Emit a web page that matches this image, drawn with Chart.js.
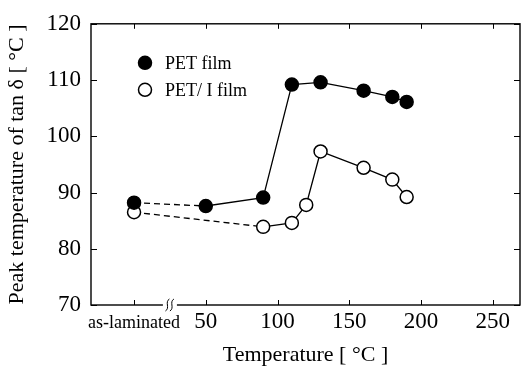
<!DOCTYPE html>
<html>
<head>
<meta charset="utf-8">
<script src="https://cdn.jsdelivr.net/npm/chart.js@4.4.0/dist/chart.umd.min.js"></script>
<style>
  html, body { margin: 0; padding: 0; background: #fff; }
</style>
</head>
<body>
<canvas id="chart" width="528" height="373"></canvas>
<script>
// x = 0 stands for the "as-laminated" sample (axis is broken between it and 50)
const petTemps = [0, 50, 90, 110, 130, 160, 180, 190];
const petFilm = [88.2, 87.6, 89.1, 109.2, 109.6, 108.1, 107.0, 106.1];
const petITemps = [0, 90, 110, 120, 130, 160, 180, 190];
const petIFilm = [86.5, 83.9, 84.6, 87.8, 97.3, 94.4, 92.3, 89.2];
const xTicks = [0, 50, 100, 150, 200, 250];
const seriesNames = ['PET film', 'PET/ I film'];

const FAMILY = "'Liberation Serif', 'Times New Roman', serif";

// dashed from as-laminated to the first annealed sample
const dashFirst = { borderDash: ctx => ctx.p0DataIndex === 0 ? [6, 4] : undefined };

// box, inward ticks on all four sides, axis break and legend
const framePlugin = {
  id: 'frame',
  afterDraw(chart) {
    const { ctx, chartArea: a, scales: { x, y } } = chart;
    ctx.save();
    ctx.strokeStyle = '#000';
    ctx.lineWidth = 1.4;
    ctx.strokeRect(a.left, a.top, a.right - a.left, a.bottom - a.top);

    ctx.lineWidth = 1;
    ctx.beginPath();
    xTicks.forEach(v => {
      const px = Math.round(x.getPixelForValue(v)) + 0.5;
      ctx.moveTo(px, a.bottom); ctx.lineTo(px, a.bottom - 5);
      ctx.moveTo(px, a.top); ctx.lineTo(px, a.top + 5);
    });
    y.ticks.forEach(t => {
      const py = Math.round(y.getPixelForValue(t.value)) + 0.5;
      ctx.moveTo(a.left, py); ctx.lineTo(a.left + 6, py);
      ctx.moveTo(a.right, py); ctx.lineTo(a.right - 6, py);
    });
    ctx.stroke();

    // axis break between as-laminated and 50
    const bx = x.getPixelForValue(25);
    ctx.fillStyle = '#fff';
    ctx.fillRect(bx - 7, a.bottom - 2, 14, 4);
    ctx.lineWidth = 1;
    [-2.5, 2].forEach(d => {
      const sx = bx + d, b = a.bottom;
      ctx.beginPath();
      ctx.moveTo(sx + 2, b - 6);
      ctx.bezierCurveTo(sx - 3, b - 3, sx + 3, b + 3, sx - 2, b + 6);
      ctx.stroke();
    });

    // legend
    ctx.font = '18px ' + FAMILY;
    ctx.textBaseline = 'middle';
    chart.data.datasets.forEach((ds, i) => {
      const cx = a.left + 54, cy = a.top + 39 + i * 27;
      ctx.beginPath();
      ctx.arc(cx, cy, 6.5, 0, Math.PI * 2);
      ctx.fillStyle = ds.pointBackgroundColor;
      ctx.fill();
      ctx.lineWidth = 1.5;
      ctx.strokeStyle = '#000';
      ctx.stroke();
      ctx.fillStyle = '#000';
      ctx.fillText(ds.label, cx + 20, cy + 1);
    });
    ctx.restore();
  }
};

new Chart(document.getElementById('chart'), {
  type: 'line',
  data: {
    datasets: [
      {
        label: seriesNames[0],
        data: petTemps.map((t, i) => ({ x: t, y: petFilm[i] })),
        borderColor: '#000',
        borderWidth: 1.3,
        pointRadius: 6.5,
        pointBackgroundColor: '#000',
        pointBorderColor: '#000',
        pointBorderWidth: 1.5,
        segment: dashFirst,
      },
      {
        label: seriesNames[1],
        data: petITemps.map((t, i) => ({ x: t, y: petIFilm[i] })),
        borderColor: '#000',
        borderWidth: 1.3,
        pointRadius: 6.5,
        pointBackgroundColor: '#fff',
        pointBorderColor: '#000',
        pointBorderWidth: 1.5,
        segment: dashFirst,
      },
    ],
  },
  options: {
    responsive: false,
    animation: false,
    layout: { padding: { top: 13, right: 1 } },
    plugins: { legend: { display: false }, tooltip: { enabled: false } },
    scales: {
      x: {
        type: 'linear',
        min: -30,
        max: 269,
        afterBuildTicks: s => { s.ticks = xTicks.map(v => ({ value: v })); },
        afterFit: s => { s.height = 68; },
        grid: { display: false, drawTicks: false },
        border: { display: false },
        ticks: {
          color: '#000',
          padding: 3,
          maxRotation: 0,
          autoSkip: false,
          callback: v => v === 0 ? 'as-laminated' : v,
          font: c => (c.tick && c.tick.value === 0)
            ? { family: FAMILY, size: 18, lineHeight: 1.75 }
            : { family: FAMILY, size: 23, lineHeight: 1.2 },
        },
        title: {
          display: true,
          text: 'Temperature [ °C ]',
          color: '#000',
          font: { family: FAMILY, size: 22 },
          padding: { top: 0, bottom: 5 },
        },
      },
      y: {
        min: 70,
        max: 120,
        afterFit: s => { s.width = 91; },
        grid: { display: false, drawTicks: false },
        border: { display: false },
        ticks: {
          stepSize: 5,
          color: '#000',
          padding: 10,
          font: { family: FAMILY, size: 23 },
          callback: v => v % 10 === 0 ? v : '',
        },
        title: {
          display: true,
          text: 'Peak temperature of tan δ [ °C ]',
          color: '#000',
          font: { family: FAMILY, size: 22 },
          padding: { top: 4, bottom: 0 },
        },
      },
    },
  },
  plugins: [framePlugin],
});
</script>
</body>
</html>
